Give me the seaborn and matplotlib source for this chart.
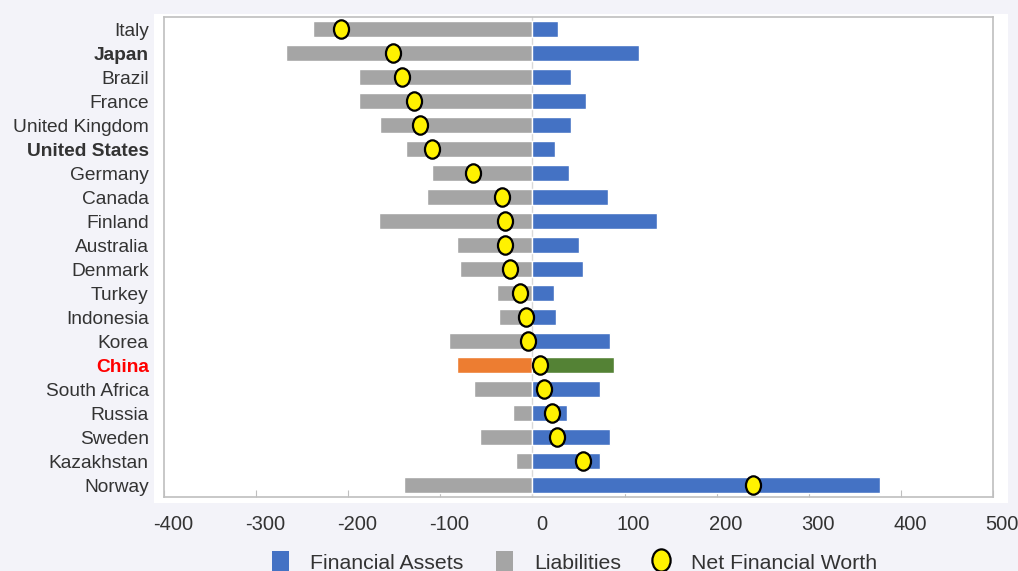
import numpy as np
import pandas as pd
import matplotlib
matplotlib.use("Agg")
import matplotlib.pyplot as plt
import matplotlib.transforms as mtransforms
from matplotlib.path import Path
from matplotlib.markers import MarkerStyle
from matplotlib.patches import Patch, Rectangle
from matplotlib.lines import Line2D
import seaborn as sns

countries = ["Italy", "Japan", "Brazil", "France", "United Kingdom", "United States",
             "Germany", "Canada", "Finland", "Australia", "Denmark", "Turkey",
             "Indonesia", "Korea", "China", "South Africa", "Russia", "Sweden",
             "Kazakhstan", "Norway"]
assets = [28, 116, 42, 58, 42, 25, 40, 82, 135, 50, 55, 23, 26, 84, 88, 73, 38, 84, 73, 377]
liabilities = [-238, -268, -188, -188, -165, -137, -109, -115, -167, -82, -79, -38, -36,
               -91, -82, -63, -21, -57, -18, -139]
net_worth = [-208, -151, -142, -129, -122, -109, -65, -33, -30, -30, -24, -13, -7, -5,
             8, 13, 21, 27, 55, 239]
x_ticks = [-400, -300, -200, -100, 0, 100, 200, 300, 400, 500]

BLUE, GREY, ORANGE, GREEN = "#4472C4", "#A5A5A5", "#ED7D31", "#548235"
YELLOW = "#FFF200"
BG = "#F3F3F9"
TXT = "#333333"

sns.set_style("white")
plt.rcParams["font.family"] = ["Liberation Sans", "DejaVu Sans"]

df = pd.DataFrame({"country": countries, "assets": assets,
                   "liabilities": liabilities, "net": net_worth})
df["pos"] = np.arange(len(df))

asset_colors = {c: (GREEN if c == "China" else BLUE) for c in countries}
liab_colors = {c: (ORANGE if c == "China" else GREY) for c in countries}

fig = plt.figure(figsize=(10.18, 5.71), dpi=100, facecolor=BG)
fig.patches.append(Rectangle((154 / 1018, (571 - 503) / 571), (1008 - 154) / 1018,
                             (503 - 14) / 571, transform=fig.transFigure,
                             facecolor="white", edgecolor="none", zorder=-5))
ax = fig.add_axes([164 / 1018, (571 - 497) / 571, (993 - 164) / 1018, (497 - 17) / 571])
ax.set_zorder(2)
ax.set_facecolor("white")

sns.barplot(data=df, x="liabilities", y="country", hue="country", palette=liab_colors,
            orient="h", width=0.65, legend=False, ax=ax, saturation=1, zorder=2)
sns.barplot(data=df, x="assets", y="country", hue="country", palette=asset_colors,
            orient="h", width=0.65, legend=False, ax=ax, saturation=1, zorder=2)

ell = Path.unit_circle().transformed(mtransforms.Affine2D().scale(0.82, 1.0))
ell_marker = MarkerStyle(ell)
sns.scatterplot(data=df, x="net", y="pos", marker=ell_marker, s=175, color=YELLOW,
                edgecolor="black", linewidth=1.6, ax=ax, zorder=4)

ax.axvline(0, color="#D9D9D9", lw=1.0, zorder=1)
ax.set_xlim(-400, 500)
ax.set_ylim(len(countries) - 0.5, -0.5)
ax.set_xticks(x_ticks)
ax.set_xticklabels([str(t) for t in x_ticks])
ax.set_yticks(np.arange(len(countries)))
ax.set_yticklabels(countries)
ax.set_xlabel("")
ax.set_ylabel("")

for s in ax.spines.values():
    s.set_visible(True)
    s.set_color("#BFBFBF")
    s.set_linewidth(1.2)

ax.tick_params(axis="x", direction="in", length=5, color="#BFBFBF", labelsize=14.5,
               labelcolor=TXT, pad=13, bottom=True)
ax.tick_params(axis="y", length=0, labelsize=13.8, labelcolor=TXT, pad=11)

offset = mtransforms.ScaledTranslation(0.09, 0, fig.dpi_scale_trans)
for lab in ax.get_xticklabels():
    lab.set_transform(lab.get_transform() + offset)

for lab in ax.get_yticklabels():
    t = lab.get_text()
    if t in ("Japan", "United States"):
        lab.set_fontweight("bold")
    elif t == "China":
        lab.set_fontweight("bold")
        lab.set_color("red")

handles = [Patch(facecolor=BLUE, edgecolor="none", label="Financial Assets"),
           Patch(facecolor=GREY, edgecolor="none", label="Liabilities"),
           Line2D([], [], linestyle="none", marker=ell_marker, markersize=16,
                  markerfacecolor=YELLOW, markeredgecolor="black", markeredgewidth=1.6,
                  label="Net Financial Worth")]
leg = fig.legend(handles=handles, loc="center", bbox_to_anchor=(0.5645, 0.016), ncol=3,
                 frameon=False, fontsize=15.3, handlelength=0.8, handleheight=1.1,
                 handletextpad=1.0, columnspacing=1.5, labelcolor=TXT)

fig.savefig("out.png", dpi=100, facecolor=BG)
